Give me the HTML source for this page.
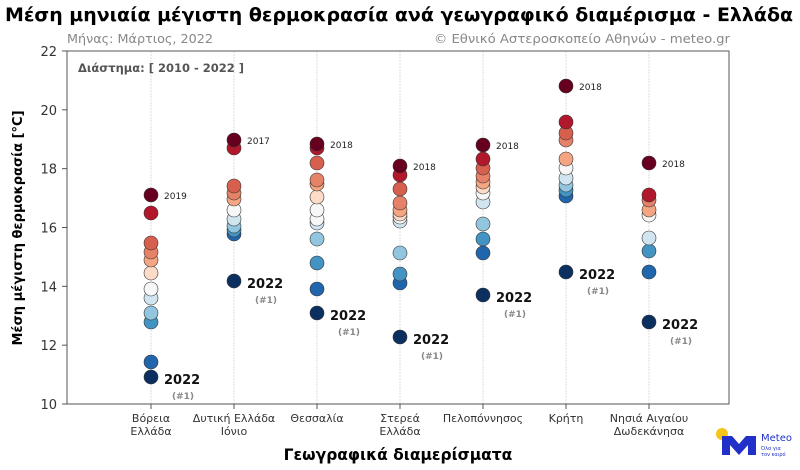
<!DOCTYPE html>
<html><head><meta charset="utf-8"><style>
body{margin:0;background:#fff;width:800px;height:465px;overflow:hidden}
text{font-family:"DejaVu Sans","Liberation Sans",sans-serif}
</style></head><body>
<svg id="s" width="800" height="465" xmlns="http://www.w3.org/2000/svg">
<text x="5" y="21" font-size="19" font-weight="bold" textLength="788" lengthAdjust="spacingAndGlyphs">Μέση μηνιαία μέγιστη θερμοκρασία ανά γεωγραφικό διαμέρισμα - Ελλάδα</text>
<text x="67" y="43" font-size="12.5" fill="#888" textLength="146" lengthAdjust="spacingAndGlyphs">Μήνας: Μάρτιος, 2022</text>
<text x="730" y="43" font-size="12.5" fill="#888" text-anchor="end" textLength="296" lengthAdjust="spacingAndGlyphs">© Εθνικό Αστεροσκοπείο Αθηνών - meteo.gr</text>
<g id="grid"></g>
<rect x="67" y="51" width="662" height="353" fill="none" stroke="#555" stroke-width="1"/>
<text x="78" y="72" font-size="11.5" font-weight="bold" fill="#555">Διάστημα: [ 2010 - 2022 ]</text>
<text transform="translate(22,228) rotate(-90)" font-size="13" font-weight="bold" text-anchor="middle">Μέση μέγιστη θερμοκρασία [°C]</text>
<text x="398" y="460" font-size="15.5" font-weight="bold" text-anchor="middle">Γεωγραφικά διαμερίσματα</text>
<g id="dots"></g>
<circle cx="722" cy="434" r="6" fill="#f5c518"/>
<path d="M722 436 h10 l7 8 l7 -8 h10 v19 h-8 v-10 l-9 10 l-9 -10 v10 h-8z" fill="#2030c8"/>
<text x="761" y="441" font-size="10" fill="#2030c8">Meteo</text>
<text x="761" y="450" font-size="5" fill="#2030c8">Όλα για</text>
<text x="761" y="456" font-size="5" fill="#2030c8">τον καιρό</text>
</svg>
<script>
const NS="http://www.w3.org/2000/svg",s=document.getElementById('s');
function el(t,a,p,txt){const e=document.createElementNS(NS,t);for(const k in a)e.setAttribute(k,a[k]);if(txt)e.textContent=txt;(p||s).appendChild(e);return e;}
const g=document.getElementById('grid'),d=document.getElementById('dots');
const Y=v=>404-(v-10)*29.42;
for(let v=10;v<=22;v+=2){const y=Y(v);el('line',{x1:62,x2:67,y1:y,y2:y,stroke:'#555'},g);el('text',{x:57,y:y+5,'font-size':13,'text-anchor':'end',fill:'#333'},g,v);}
const xs=[151,234,317,400,483,566,649];
const labs=[["Βόρεια","Ελλάδα"],["Δυτική Ελλάδα","Ιόνιο"],["Θεσσαλία"],["Στερεά","Ελλάδα"],["Πελοπόννησος"],["Κρήτη"],["Νησιά Αιγαίου","Δωδεκάνησα"]];
xs.forEach((x,i)=>{el('line',{x1:x,x2:x,y1:51,y2:404,stroke:'#ddd','stroke-dasharray':'2,1'},g);el('line',{x1:x,x2:x,y1:404,y2:409,stroke:'#555'},g);
labs[i].forEach((l,j)=>el('text',{x:x,y:422+j*13,'font-size':11,'text-anchor':'middle',fill:'#333'},g,l));});
const cols=[
[195,213,243,252,260,273,289,298,313,322,362,377],
[140,148,186,193,199,210,219,226,230,234,281],
[144,148,163,180,184,197,210,219,223,239,263,289,313],
[166,175,189,203,210,214,217,221,253,274,283,337],
[145,159,168,176,182,187,193,202,224,239,253,295],
[86,122,133,140,159,168,178,185,190,196,272],
[163,195,200,210,215,238,251,272,322]];
const yrs=["2019","2017","2018","2018","2018","2018","2018"];
const pal=["#67001f","#b2182b","#d6604d","#e58267","#f4a582","#fddbc7","#f7f7f7","#d1e5f0","#92c5de","#4393c3","#2166ac","#053061"];
cols.forEach((c,i)=>{const x=xs[i];const n=c.length;
 for(let k=n-1;k>=0;k--){let cl;
  if(k==0)cl=pal[0];else if(k==n-1)cl="#0b3060";
  else{const idx=Math.round(1+(k-1)/(n-3)*9);cl=pal[Math.min(idx,10)];}
  el('circle',{cx:x,cy:c[k],r:7,fill:cl,stroke:'#333','stroke-width':0.6},d);}
 el('text',{x:x+13,y:c[0]+4,'font-size':9,fill:'#222'},d,yrs[i]);
 const b=c[n-1];el('text',{x:x+13,y:b+7,'font-size':13,'font-weight':'bold',fill:'#111'},d,"2022");
 el('text',{x:x+21,y:b+22,'font-size':9,'font-weight':'bold',fill:'#888'},d,"(#1)");
});
</script>
</body></html>
